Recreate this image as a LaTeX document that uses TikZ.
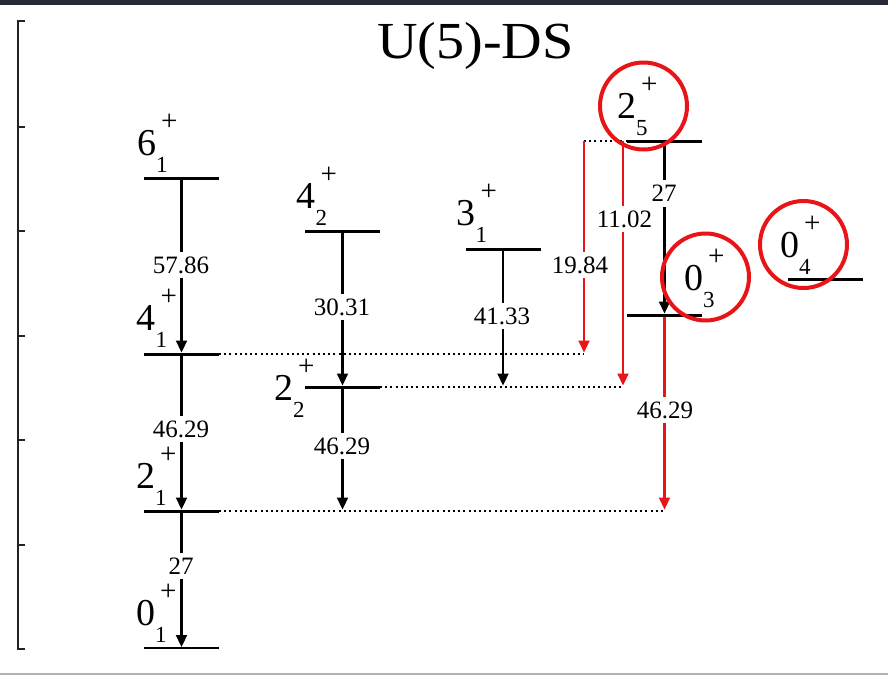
\documentclass[tikz,border=0pt]{standalone}
\usepackage{fontspec}
\setmainfont{Liberation Serif}
\usetikzlibrary{arrows.meta}
\definecolor{hl}{RGB}{232,20,24}
\definecolor{barc}{RGB}{38,42,52}
\definecolor{edgec}{RGB}{178,178,178}
\definecolor{axc}{RGB}{34,34,34}
\newcommand\jl[2]{{\fontsize{38}{38}\selectfont #1}\rlap{\raisebox{-17pt}{\fontsize{23}{23}\selectfont #2}}\hspace{5pt}\raisebox{25pt}{\fontsize{29}{29}\selectfont +}}
\begin{document}
\begin{tikzpicture}[x=1pt,y=-1pt,
  levnode/.style={fill=black,inner sep=0pt,outer sep=0pt,minimum height=3pt,minimum width=75pt},
  jlab/.style={anchor=base west,inner sep=0pt},
  val/.style={fill=white,inner xsep=1pt,inner ysep=5pt,font=\fontsize{25}{25}\selectfont},
  arr/.style={line width=2.2pt,-{Triangle[length=12pt,width=11pt]}},
  redarr/.style={arr,draw=hl,color=hl},
  dots/.style={line width=2pt,dash pattern=on 2pt off 3.2pt},
  hlc/.style={circle,draw=hl,line width=4pt,minimum size=87pt,inner sep=0pt}]
\useasboundingbox (0,0) rectangle (888,675);
\fill[white] (0,0) rectangle (888,675);
\fill[barc] (0,0) rectangle (888,5);
\draw[edgec,line width=1.2pt] (0,674) -- (888,674);
% axis
\draw[axc,line width=1.5pt] (25,21) -- (18,21) -- (18,649) -- (25,649);
\foreach \yy in {127,231,336,440,545} \draw[axc,line width=1.5pt] (18,\yy) -- (25,\yy);
% title
\node[anchor=base,inner sep=0pt,xscale=1.08] (title) at (475.5,58) {\fontsize{52}{52}\selectfont U(5)-DS};
% levels
\node[levnode] (l61) at (181.5,178) {};
\node[levnode] (l41) at (181.5,354) {};
\node[levnode] (l21) at (181.5,511) {};
\node[levnode,minimum height=2pt] (l01) at (181.5,648) {};
\node[levnode] (l42) at (342.5,231) {};
\node[levnode] (l22) at (342.5,387) {};
\node[levnode] (l31) at (503,249) {};
\node[levnode] (l25) at (664.5,141) {};
\node[levnode] (l03) at (664.5,315) {};
\node[levnode] (l04) at (825.5,279) {};
% level labels
\node[jlab] (j61) at (137,155) {\jl{6}{1}};
\node[jlab] (j41) at (136.5,330) {\jl{4}{1}};
\node[jlab] (j21) at (136,488) {\jl{2}{1}};
\node[jlab] (j01) at (136,625) {\jl{0}{1}};
\node[jlab] (j42) at (296.5,208) {\jl{4}{2}};
\node[jlab] (j22) at (274,400) {\jl{2}{2}};
\node[jlab] (j31) at (456.5,225) {\jl{3}{1}};
\node[jlab] (j25) at (617,118) {\jl{2}{5}};
\node[jlab] (j03) at (684,290) {\jl{0}{3}};
\node[jlab] (j04) at (780,257) {\jl{0}{4}};
% helper coordinates
\coordinate (r19) at (584,141);
\coordinate (r11) at (623,141);
% dotted lines
\draw[dots] (l41.east) -- (r19 |- l41);
\draw[dots] (l22.east) -- (r11 |- l22);
\draw[dots] (l21.east) -- (l03.south |- l21);
\draw[dots] (r19) -- (l25.west);
% black transitions
\draw[arr] (l61.south) -- (l41.north);
\draw[arr] (l41.south) -- (l21.north);
\draw[arr] (l21.south) -- (l01.north);
\draw[arr] (l42.south) -- (l42.south |- l22.north);
\draw[arr] (l22.south) -- (l22.south |- l21.north);
\draw[arr] (l31.south) -- (l31.south |- l22.north);
\draw[arr] (l25.south) -- (l03.north);
% red transitions
\draw[redarr] (r19) -- (r19 |- l41.north);
\draw[redarr] (r11) -- (r11 |- l22.north);
\draw[redarr] (l03.south) -- (l03.south |- l21.north);
% values
\node[val] (v1) at (181,265) {57.86};
\node[val] (v2) at (181,429) {46.29};
\node[val] (v3) at (181,566) {27};
\node[val] (v4) at (342,307) {30.31};
\node[val] (v5) at (342,446) {46.29};
\node[val] (v6) at (502,316) {41.33};
\node[val] (v7) at (580,265) {19.84};
\node[val] (v8) at (624.5,219) {11.02};
\node[val] (v9) at (664,193.5) {27};
\node[val] (v10) at (665,410) {46.29};
% highlight circles
\node[hlc] (c25) at (643.5,106) {};
\node[hlc] (c03) at (705.5,277) {};
\node[hlc] (c04) at (803.5,244.5) {};
\end{tikzpicture}
\end{document}
